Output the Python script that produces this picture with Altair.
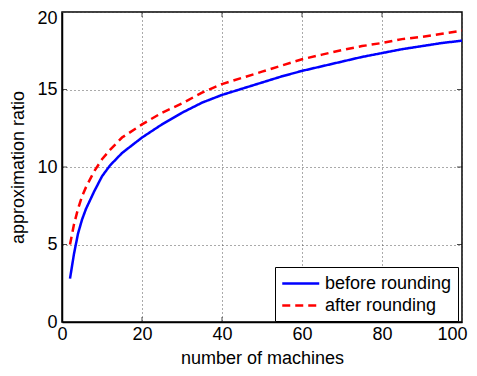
import altair as alt
import pandas as pd

# ---- data ----
x_vals = [2, 3, 4, 5, 6, 8, 10, 12, 15, 20, 25, 30, 35, 40, 45, 50, 55, 60, 65, 70, 75, 80, 85, 90, 95, 100]
before_rounding = [2.8, 4.4, 5.7, 6.6, 7.3, 8.4, 9.4, 10.1, 10.9, 11.9, 12.75, 13.5, 14.15, 14.65, 15.05,
                   15.45, 15.85, 16.2, 16.5, 16.8, 17.1, 17.35, 17.6, 17.8, 18.0, 18.15]
after_rounding = [5.0, 6.3, 7.3, 8.1, 8.7, 9.7, 10.5, 11.1, 11.9, 12.75, 13.5, 14.1, 14.8, 15.35, 15.75,
                  16.15, 16.55, 16.95, 17.25, 17.55, 17.8, 18.0, 18.25, 18.4, 18.6, 18.8]
series_names = ["before rounding", "after rounding"]
series_colors = ["#0000ff", "#ff0000"]
x_ticks = [0, 20, 40, 60, 80, 100]
y_ticks = [0, 5, 10, 15, 20]

rows = []
for x, b, a in zip(x_vals, before_rounding, after_rounding):
    rows.append({"machines": x, "ratio": b, "series": series_names[0]})
    rows.append({"machines": x, "ratio": a, "series": series_names[1]})
df = pd.DataFrame(rows)

FONT = "Liberation Sans"
xscale = alt.Scale(domain=[0, 100], nice=False, zero=False)
yscale = alt.Scale(domain=[0, 20], nice=False, zero=False)

x_axis = alt.Axis(values=x_ticks, title="number of machines", labelPadding=3, titlePadding=6,
                  format="d", labelFlush=False,
                  labelOffset={"condition": {"test": "datum.value == 100", "value": -10}, "value": 0})
y_axis = alt.Axis(values=y_ticks, title="approximation ratio", labelPadding=5, titlePadding=9.5,
                  format="d", labelFlush=False,
                  labelOffset={"condition": {"test": "datum.value == 20", "value": 6}, "value": 0})

def xenc():
    return alt.X("machines:Q", scale=xscale, axis=x_axis)

def yenc():
    return alt.Y("ratio:Q", scale=yscale, axis=y_axis)

legend = alt.Legend(
    title=None, orient="none", legendX=213, legendY=255,
    symbolType="M-1,0H3", symbolSize=342, symbolStrokeWidth=2.5,
    labelOffset=23, labelFont=FONT, labelFontSize=18, labelColor="black", labelLimit=0,
    padding=6, rowPadding=2, strokeColor="black", fillColor="white",
)

lines = alt.Chart(df).mark_line(strokeWidth=2.5, clip=True).encode(
    x=xenc(),
    y=yenc(),
    color=alt.Color("series:N", scale=alt.Scale(domain=series_names, range=series_colors),
                    sort=series_names, legend=legend),
    strokeDash=alt.StrokeDash("series:N", scale=alt.Scale(domain=series_names, range=[[1, 0], [8, 5]]),
                              sort=series_names, legend=legend),
)

# inward tick marks on all four sides
bx = pd.DataFrame({"machines": x_ticks[1:-1], "ratio": [0] * 4})
tx = pd.DataFrame({"machines": x_ticks[1:-1], "ratio": [20] * 4})
ly = pd.DataFrame({"machines": [0] * 3, "ratio": y_ticks[1:-1]})
ry = pd.DataFrame({"machines": [100] * 3, "ratio": y_ticks[1:-1]})

def tick_layer(d, orient, xo, yo):
    return alt.Chart(d).mark_tick(orient=orient, size=5, thickness=1, color="black",
                                  xOffset=xo, yOffset=yo).encode(x=xenc(), y=yenc())

ticks = [
    tick_layer(bx, "vertical", 0, -2.5),
    tick_layer(tx, "vertical", 0, 2.5),
    tick_layer(ly, "horizontal", 2.5, 0),
    tick_layer(ry, "horizontal", -2.5, 0),
]

chart = alt.layer(lines, *ticks).properties(
    width=400, height=310,
    autosize=alt.AutoSizeParams(type="none"),
    padding={"left": 54, "top": 4, "right": 7, "bottom": 46},
    background="white",
).configure_view(
    stroke="black", strokeWidth=1.5,
).configure_axis(
    labelFont=FONT, labelFontSize=18, labelColor="black",
    titleFont=FONT, titleFontSize=18, titleColor="black", titleFontWeight="normal",
    domainColor="black", domainWidth=1.5,
    ticks=False,
    grid=True, gridColor="#555555", gridDash=[1, 3], gridWidth=1,
)

chart.save("out.html", embed_options={"renderer": "svg", "actions": False})
